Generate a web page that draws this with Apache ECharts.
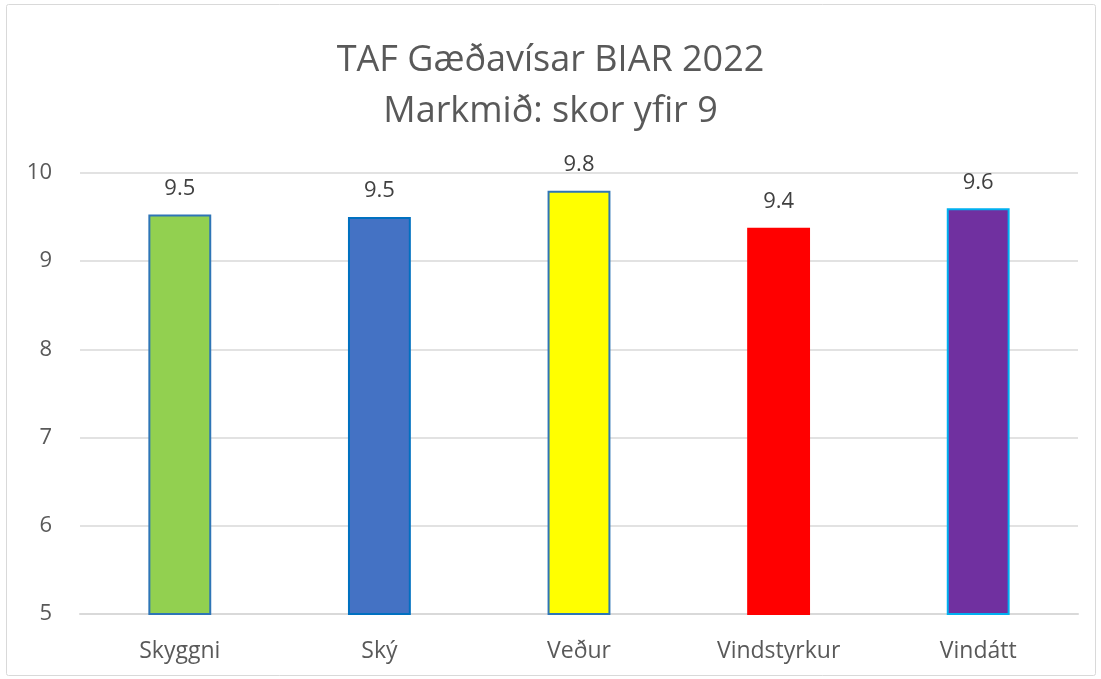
<!DOCTYPE html>
<html><head><meta charset="utf-8">
<script src="https://cdn.jsdelivr.net/npm/echarts@6/dist/echarts.min.js"></script>
<style>html,body{margin:0;padding:0;background:#fff}#c{width:1101px;height:679px}</style>
</head><body><div id="c"></div>
<script>
const categories = ['Skyggni', 'Ský', 'Veður', 'Vindstyrkur', 'Vindátt'];
const values = [9.53, 9.50, 9.80, 9.38, 9.60];
const fillColors = ['#92D050', '#4472C4', '#FFFF00', '#FF0000', '#7030A0'];
const borderColors = ['#2E75B6', '#0070C0', '#2E75B6', '#FF0000', '#00B0F0'];
const yTicks = [5, 6, 7, 8, 9, 10];

const chart = echarts.init(document.getElementById('c'));
const font = '"Open Sans", "Noto Sans", sans-serif';
chart.setOption({
  backgroundColor: '#fff',
  animation: false,
  textStyle: { fontFamily: font },
  graphic: [{
    type: 'rect', shape: { x: 6.5, y: 4.5, width: 1089, height: 671, r: 2 },
    style: { fill: 'none', stroke: '#d9d9d9', lineWidth: 1 }, silent: true
  }],
  title: {
    text: 'TAF Gæðavísar BIAR 2022\nMarkmið: skor yfir 9',
    left: 'center', top: 30,
    textStyle: { fontFamily: font, fontSize: 36, fontWeight: 'normal', color: '#595959', lineHeight: 51 }
  },
  grid: { left: 80, right: 23, top: 173, bottom: 65 },
  xAxis: {
    type: 'category', data: categories,
    axisLine: { lineStyle: { color: '#d9d9d9', width: 2 } },
    axisTick: { show: false },
    axisLabel: { color: '#595959', fontSize: 23, margin: 26, fontFamily: font }
  },
  yAxis: {
    type: 'value', min: yTicks[0], max: yTicks[yTicks.length - 1], interval: 1,
    axisLine: { show: false }, axisTick: { show: false },
    splitLine: { lineStyle: { color: '#d9d9d9', width: 1.5 } },
    axisLabel: { color: '#595959', fontSize: 22, margin: 28, fontFamily: font }
  },
  series: [{
    type: 'bar', barWidth: '31.5%',
    data: values.map((v, i) => ({
      value: v,
      itemStyle: { color: fillColors[i], borderColor: borderColors[i], borderWidth: 2 }
    })),
    label: {
      show: true, position: 'top', distance: 15, color: '#404040', fontSize: 22, fontFamily: font,
      formatter: p => p.value.toFixed(1)
    }
  }]
});
</script></body></html>
